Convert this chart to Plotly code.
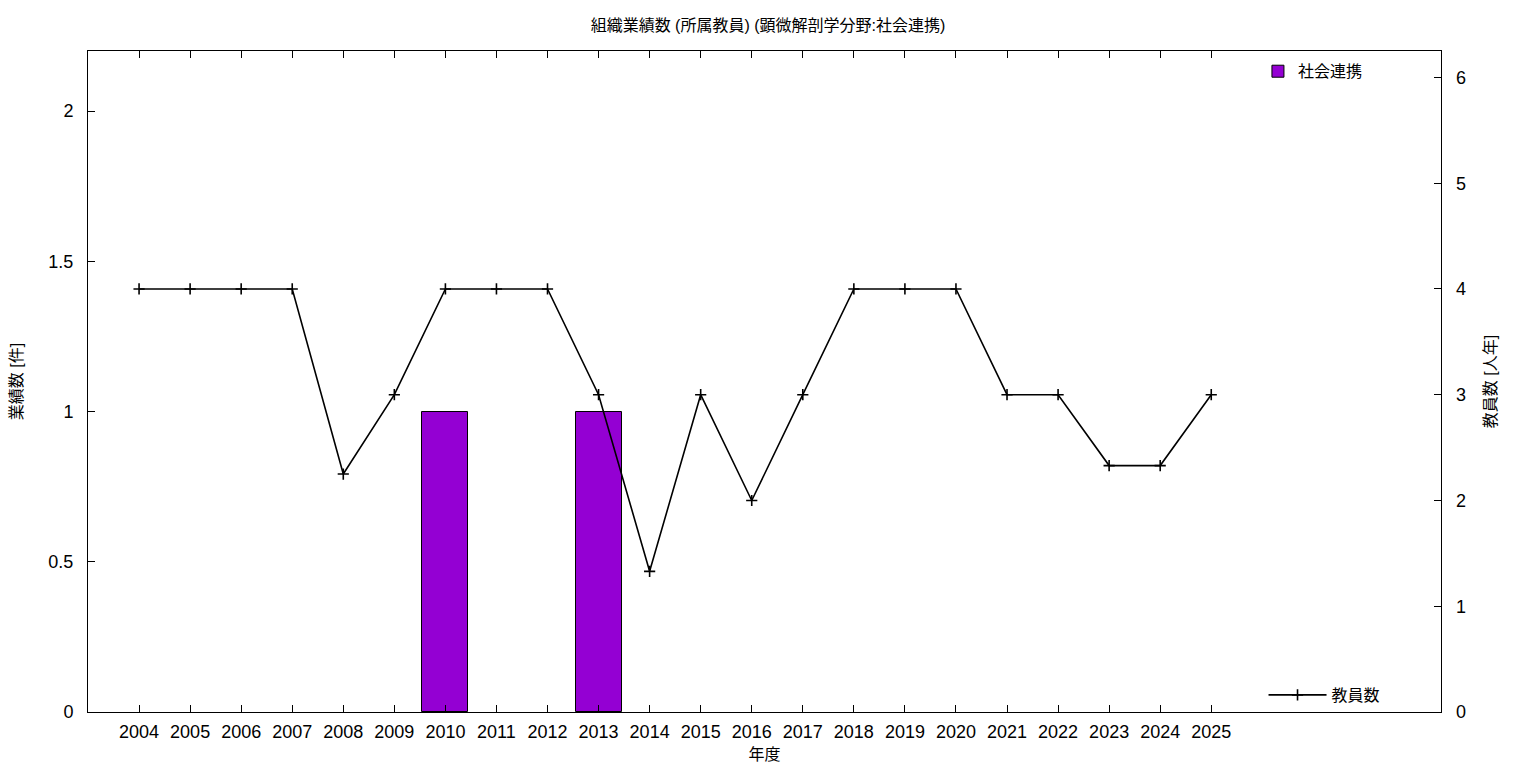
import plotly.graph_objects as go

years = list(range(2004, 2026))
bar_name = "社会連携"
bar_values = [0, 0, 0, 0, 0, 0, 1, 0, 0, 1, 0, 0, 0, 0, 0, 0, 0, 0, 0, 0, 0, 0]
line_name = "教員数"
staff_values = [4, 4, 4, 4, 2.25, 3, 4, 4, 4, 3, 1.33, 3, 2, 3, 4, 4, 4, 3, 3, 2.33, 2.33, 3]

title = "組織業績数 (所属教員) (顕微解剖学分野:社会連携)"
x_title = "年度"
y_title = "業績数 [件]"
y2_title = "教員数 [人年]"

FONT = "Liberation Sans, Arial, Noto Sans CJK JP, sans-serif"

bx = [y for y, v in zip(years, bar_values) if v != 0]
bv = [v for v in bar_values if v != 0]

fig = go.Figure()
fig.add_trace(go.Bar(
    x=bx, y=bv, name=bar_name, width=0.9,
    marker=dict(color="#9400d3", line=dict(color="black", width=1)),
    legend="legend", yaxis="y",
))
fig.add_trace(go.Scatter(
    x=years, y=staff_values, name=line_name, mode="lines+markers",
    line=dict(color="black", width=1.6),
    marker=dict(symbol="cross-thin", size=8, line=dict(color="black", width=1.6)),
    legend="legend2", yaxis="y2",
))

fig.update_layout(
    width=1536, height=768,
    margin=dict(l=88, r=95, t=51, b=56),
    paper_bgcolor="white", plot_bgcolor="white",
    font=dict(family=FONT, size=18, color="black"),
    title=dict(text=title, x=0.5, xanchor="center", y=0.967, yanchor="middle",
               font=dict(size=16)),
    showlegend=True,
    xaxis=dict(
        range=[2003, 2029.5], tickmode="array", tickvals=years,
        ticktext=[str(y) for y in years],
        ticks="inside", ticklen=7, tickcolor="black", ticklabelstandoff=3,
        showline=True, linecolor="black", linewidth=1, mirror="ticks",
        showgrid=False, zeroline=False, automargin=False,
        title=dict(text=x_title, font=dict(size=16), standoff=8),
    ),
    yaxis=dict(
        range=[0, 2.2], tickvals=[0, 0.5, 1, 1.5, 2], ticktext=["0", "0.5", "1", "1.5", "2"],
        ticks="inside", ticklen=7, tickcolor="black", ticklabelstandoff=10,
        showline=True, linecolor="black", linewidth=1, mirror=True,
        showgrid=False, zeroline=False, automargin=False,
        title=dict(text=y_title, font=dict(size=16), standoff=21),
    ),
    yaxis2=dict(
        range=[0, 6.25], tickvals=[0, 1, 2, 3, 4, 5, 6],
        overlaying="y", side="right",
        ticks="inside", ticklen=7, tickcolor="black", ticklabelstandoff=14,
        showline=False, showgrid=False, zeroline=False, automargin=False,
        title=dict(text=y2_title, font=dict(size=16), standoff=19),
    ),
    legend=dict(x=0.946, xanchor="right", y=0.995, yanchor="top",
                bgcolor="rgba(0,0,0,0)", font=dict(size=16)),
    legend2=dict(x=0.959, xanchor="right", y=0.0, yanchor="bottom",
                 bgcolor="rgba(0,0,0,0)", font=dict(size=16), itemwidth=58),
    bargap=0,
)

fig.write_html("out.html", config={"displayModeBar": False},
               post_script="document.body.style.margin='0';document.body.style.padding='0';")
